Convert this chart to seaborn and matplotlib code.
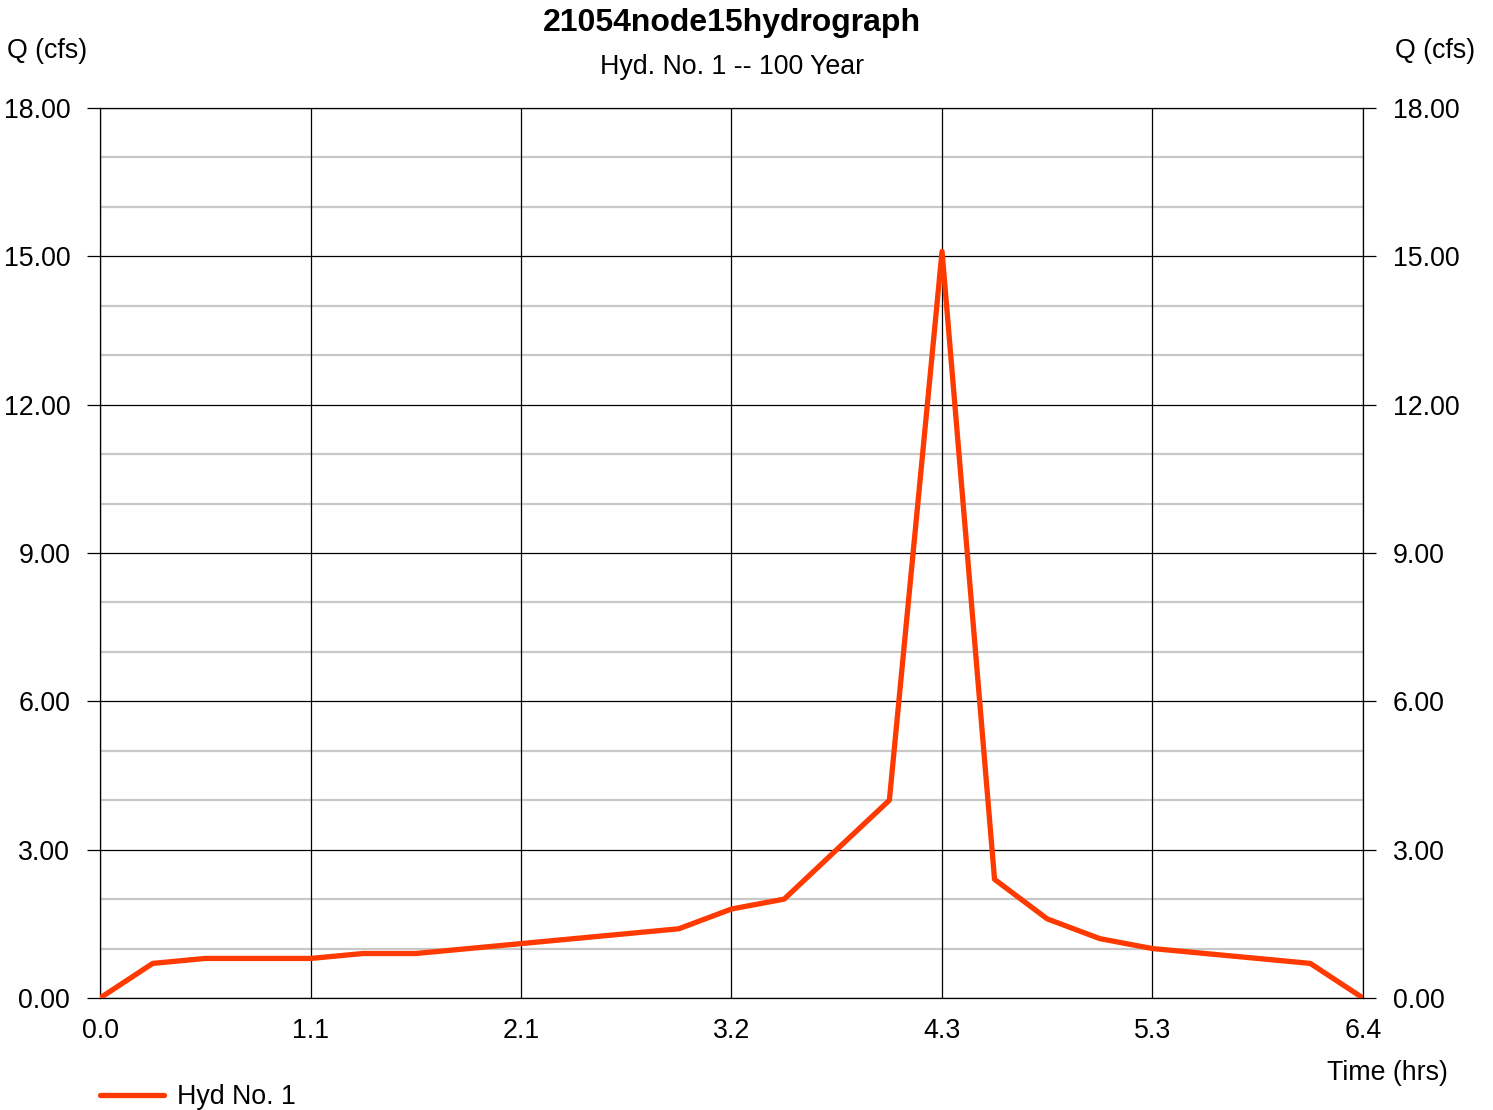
import numpy as np
import pandas as pd
import seaborn as sns
import matplotlib.pyplot as plt

# hydrograph ordinates, 16-minute steps
time_hrs = [0.0, 0.267, 0.533, 0.8, 1.067, 1.333, 1.6, 1.867, 2.133, 2.4, 2.667,
            2.933, 3.2, 3.467, 3.733, 4.0, 4.267, 4.533, 4.8, 5.067, 5.333, 5.6,
            5.867, 6.133, 6.4]
flow_cfs = [0.0, 0.7, 0.8, 0.8, 0.8, 0.9, 0.9, 1.0, 1.1, 1.2, 1.3,
            1.4, 1.8, 2.0, 3.0, 4.0, 15.1, 2.4, 1.6, 1.2, 1.0, 0.9,
            0.8, 0.7, 0.0]
x_ticks = [0.0, 1.0667, 2.1333, 3.2, 4.2667, 5.3333, 6.4]
x_labels = ["0.0", "1.1", "2.1", "3.2", "4.3", "5.3", "6.4"]
y_ticks = [0, 3, 6, 9, 12, 15, 18]

df = pd.DataFrame({"Time": time_hrs, "Q": flow_cfs})

sns.set_style("white")
plt.rcParams['font.family'] = ['Liberation Sans', 'DejaVu Sans']
plt.rcParams['text.color'] = 'black'
plt.rcParams['xtick.color'] = 'black'
plt.rcParams['ytick.color'] = 'black'

fig = plt.figure(figsize=(14.93, 11.10), dpi=100)
ax = fig.add_axes([0.067, 0.1009, 0.8459, 0.8018])

# grid: light minor lines each 1 cfs, black major lines
for y in range(0, 19):
    if y % 3:
        ax.axhline(y, color='#c8c8c8', lw=1.6, zorder=1)
for y in y_ticks:
    ax.axhline(y, color='black', lw=0.9, zorder=2)
for x in x_ticks:
    ax.axvline(x, color='black', lw=0.9, zorder=2)

sns.lineplot(data=df, x="Time", y="Q", ax=ax, color='#ff3a00', lw=3.8,
             label="Hyd No. 1", zorder=3)

ax.set_xlim(0, 6.4)
ax.set_ylim(0, 18)
ax.set_xticks(x_ticks)
ax.set_xticklabels(x_labels)
ax.set_yticks(y_ticks)
ax.set_yticklabels([f"{v:.2f}" for v in y_ticks])
ax.tick_params(axis='y', left=True, right=True, labelright=True, length=9.5,
               width=0.9, color='black', pad=12, labelsize=19.3)
ax.tick_params(axis='y', which='major', right=True)
ax.tick_params(axis='x', bottom=False, pad=11, labelsize=19.3)
for lbl in ax.get_yticklabels(which='major'):
    pass
for s in ax.spines.values():
    s.set_color('black')
    s.set_linewidth(0.9)
ax.set_xlabel("")
ax.set_ylabel("")

fig.text(0.49, 0.979, "21054node15hydrograph", ha='center', va='center',
         fontsize=23, fontweight='bold')
fig.text(0.49, 0.940, "Hyd. No. 1 -- 100 Year", ha='center', va='center', fontsize=19.3)
fig.text(0.005, 0.954, "Q (cfs)", ha='left', va='center', fontsize=19.3)
fig.text(0.988, 0.954, "Q (cfs)", ha='right', va='center', fontsize=19.3)
fig.text(0.970, 0.033, "Time (hrs)", ha='right', va='center', fontsize=19.3)

ax.legend(loc='upper left', bbox_to_anchor=(-0.019, -0.07), frameon=False,
          fontsize=19.3, handlelength=2.4, handletextpad=0.45)

fig.savefig("out.png", dpi=100)
